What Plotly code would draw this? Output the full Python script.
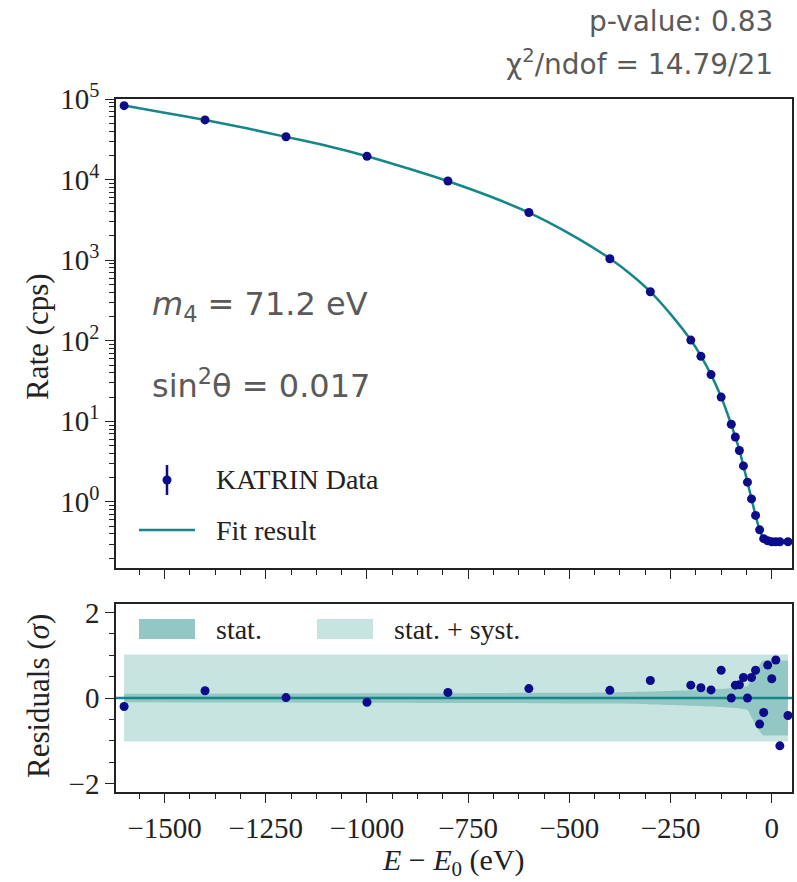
import plotly.graph_objects as go

# ---------------- data ----------------
energy = [-1600, -1400, -1200, -1000, -800, -600, -400, -300, -200, -175, -150, -125,
          -100, -90, -80, -70, -60, -50, -40, -30, -20, -10, 0, 10, 20, 40]
rate = [82700, 55000, 34000, 19500, 9600, 3900, 1040, 405, 102, 64, 38, 20,
        9.2, 6.4, 4.35, 2.8, 1.76, 1.09, 0.68, 0.45, 0.35, 0.33, 0.32, 0.32, 0.32, 0.32]
residuals = [-0.2, 0.17, 0.01, -0.1, 0.13, 0.22, 0.18, 0.41, 0.30, 0.24, 0.19, 0.65,
             0.0, 0.30, 0.31, 0.48, 0.0, 0.48, 0.65, -0.61, -0.34, 0.77, 0.45, 0.89, -1.12, -0.41]

fit_energy = [-1600, -1500, -1400, -1300, -1200, -1100, -1000, -900, -800, -700, -600, -500,
              -400, -350, -300, -250, -200, -175, -150, -125, -100, -90, -80, -70, -60, -50,
              -40, -30, -20, -10, 0, 10, 20, 30, 40]
fit_rate = [83000, 67600, 55000, 43600, 33900, 26300, 19500, 13800, 9550, 6300, 3900, 2140,
            1050, 680, 407, 214, 102, 64.5, 38, 20, 9.1, 6.4, 4.4, 2.8, 1.76, 1.09,
            0.68, 0.45, 0.35, 0.325, 0.32, 0.32, 0.32, 0.32, 0.32]

band_energy = [-1600, -1000, -600, -400, -300, -200, -150, -100, -75, -60, -50, -40, -30,
               -22, -10, 0, 20, 40]
stat_halfwidth = [0.10, 0.11, 0.12, 0.13, 0.15, 0.18, 0.20, 0.23, 0.25, 0.28, 0.45, 0.62,
                  0.78, 0.87, 0.88, 0.88, 0.88, 0.88]
syst_energy = [-1600, 40]
syst_halfwidth = [1.02, 1.02]

zero_energy = [-1620, 50]
zero_line = [0, 0]

x_ticks = [-1500, -1250, -1000, -750, -500, -250, 0]
x_ticktext = ["\u22121500", "\u22121250", "\u22121000", "\u2212750", "\u2212500", "\u2212250", "0"]
y_ticks = [1, 10, 100, 1000, 10000, 100000]
y_ticktext = ["10<sup>0</sup>", "10<sup>1</sup>", "10<sup>2</sup>", "10<sup>3</sup>",
              "10<sup>4</sup>", "10<sup>5</sup>"]
res_ticks = [-2, 0, 2]
res_ticktext = ["\u22122", "0", "2"]

# ---------------- style ----------------
W, H = 797, 882
TEAL = "#16868a"
NAVY = "#0b0b8c"
STAT = "#93c7c3"
SYST = "#c8e4e1"
GRAY = "#5a5a5a"
SERIF = "Liberation Serif"
SANS = "DejaVu Sans"

def px(x):
    return x / W

def py(y):
    return 1 - y / H

x_dom = [px(116), px(792)]
top_dom = [py(568), py(99)]
bot_dom = [py(792), py(604)]

minor_log = [m * 10 ** e for e in range(-1, 5) for m in range(2, 10)]

fig = go.Figure()

# top panel
fig.add_trace(go.Scatter(x=fit_energy, y=fit_rate, mode="lines",
                         line=dict(color=TEAL, width=2.5, shape="spline", smoothing=0.6),
                         xaxis="x", yaxis="y", showlegend=False, hoverinfo="skip"))
fig.add_trace(go.Scatter(x=energy, y=rate, mode="markers",
                         marker=dict(color=NAVY, size=9),
                         xaxis="x", yaxis="y", showlegend=False))

# bottom panel bands
syst_up = [v for v in syst_halfwidth]
syst_lo = [-v for v in syst_halfwidth]
stat_up = [v for v in stat_halfwidth]
stat_lo = [-v for v in stat_halfwidth]
fig.add_trace(go.Scatter(x=syst_energy, y=syst_lo, mode="lines", line=dict(width=0),
                         xaxis="x2", yaxis="y2", showlegend=False, hoverinfo="skip"))
fig.add_trace(go.Scatter(x=syst_energy, y=syst_up, mode="lines", line=dict(width=0),
                         fill="tonexty", fillcolor=SYST,
                         xaxis="x2", yaxis="y2", showlegend=False, hoverinfo="skip"))
fig.add_trace(go.Scatter(x=band_energy, y=stat_lo, mode="lines", line=dict(width=0, shape="spline", smoothing=0.5),
                         xaxis="x2", yaxis="y2", showlegend=False, hoverinfo="skip"))
fig.add_trace(go.Scatter(x=band_energy, y=stat_up, mode="lines", line=dict(width=0, shape="spline", smoothing=0.5),
                         fill="tonexty", fillcolor=STAT,
                         xaxis="x2", yaxis="y2", showlegend=False, hoverinfo="skip"))
fig.add_trace(go.Scatter(x=zero_energy, y=zero_line, mode="lines",
                         line=dict(color=TEAL, width=2.5),
                         xaxis="x2", yaxis="y2", showlegend=False, hoverinfo="skip"))
fig.add_trace(go.Scatter(x=energy, y=residuals, mode="markers",
                         marker=dict(color=NAVY, size=9),
                         xaxis="x2", yaxis="y2", showlegend=False))

axis_common = dict(showline=True, linecolor="#222222", linewidth=1.5, mirror=True,
                   ticks="outside", tickcolor="#222222", tickwidth=1.3,
                   showgrid=False, zeroline=False, automargin=False,
                   tickfont=dict(family=SERIF, size=29, color="#222222"))

minor_style = dict(ticks="outside", ticklen=5, tickcolor="#222222", tickwidth=1.1)

fig.update_layout(
    width=W, height=H, margin=dict(l=0, r=0, t=0, b=0, autoexpand=False),
    paper_bgcolor="white", plot_bgcolor="white", showlegend=False,
    xaxis=dict(domain=x_dom, anchor="y", range=[-1620, 50], tickvals=x_ticks,
               showticklabels=False, ticklen=9,
               minor=dict(tickmode="linear", tick0=0, dtick=62.5, **minor_style),
               **axis_common),
    yaxis=dict(domain=top_dom, anchor="x", type="log", range=[-0.82, 5.0],
               tickvals=y_ticks, ticktext=y_ticktext, ticklen=9,
               minor=dict(tickmode="array", tickvals=minor_log, **minor_style),
               **axis_common),
    xaxis2=dict(domain=x_dom, anchor="y2", range=[-1620, 50], tickvals=x_ticks,
                ticktext=x_ticktext, ticklen=9,
                minor=dict(tickmode="linear", tick0=0, dtick=62.5, **minor_style),
                **axis_common),
    yaxis2=dict(domain=bot_dom, anchor="x2", range=[-2.2, 2.2], tickvals=res_ticks,
                ticktext=res_ticktext, ticklen=9,
                minor=dict(tickmode="linear", tick0=0, dtick=0.5, **minor_style),
                **axis_common),
)

ann = []
def add_text(text, x, y, size, family, color, xanchor="left", yanchor="middle", textangle=0):
    ann.append(dict(text=text, x=px(x), y=py(y), xref="paper", yref="paper",
                    xanchor=xanchor, yanchor=yanchor, showarrow=False, textangle=textangle,
                    font=dict(size=size, family=family, color=color)))

# statistics text
add_text("p-value: 0.83", 775, 21, 28, SANS, GRAY, xanchor="right")
add_text("\u03c7<sup>2</sup>/ndof = 14.79/21", 775, 63, 28, SANS, GRAY, xanchor="right")
add_text("<i>m</i><sub>4</sub> = 71.2 eV", 150, 306, 32, SANS, GRAY)
add_text("sin<sup>2</sup>\u03b8 = 0.017", 150, 384, 32, SANS, GRAY)

# axis titles
add_text("Rate (cps)", 38, 337, 31, SERIF, "#222222", xanchor="center", textangle=-90)
add_text("Residuals (<i>\u03c3</i>)", 38, 696, 31, SERIF, "#222222", xanchor="center", textangle=-90)
add_text("<i>E</i> \u2212 <i>E</i><sub>0</sub> (eV)", 453, 862, 30, SERIF, "#222222", xanchor="center")

# legends (text)
add_text("KATRIN Data", 214, 479, 28, SERIF, "#222222")
add_text("Fit result", 214, 530, 28, SERIF, "#222222")
add_text("stat.", 214, 629, 28, SERIF, "#222222")
add_text("stat. + syst.", 392, 629, 28, SERIF, "#222222")

shapes = [
    # KATRIN Data legend glyph: error bar + dot
    dict(type="line", xref="paper", yref="paper", x0=px(167), x1=px(167), y0=py(465), y1=py(495),
         line=dict(color=NAVY, width=2.5)),
    dict(type="circle", xref="paper", yref="paper", x0=px(162.5), x1=px(171.5), y0=py(475.5), y1=py(484.5),
         fillcolor=NAVY, line=dict(color=NAVY, width=0)),
    # Fit result legend line
    dict(type="line", xref="paper", yref="paper", x0=px(139), x1=px(195), y0=py(530), y1=py(530),
         line=dict(color=TEAL, width=2.5)),
    # band legend swatches
    dict(type="rect", xref="paper", yref="paper", x0=px(139), x1=px(195), y0=py(639), y1=py(619),
         fillcolor=STAT, line=dict(width=0)),
    dict(type="rect", xref="paper", yref="paper", x0=px(317), x1=px(373), y0=py(639), y1=py(619),
         fillcolor=SYST, line=dict(width=0)),
]

fig.update_layout(annotations=ann, shapes=shapes)
fig.write_html("out.html")
